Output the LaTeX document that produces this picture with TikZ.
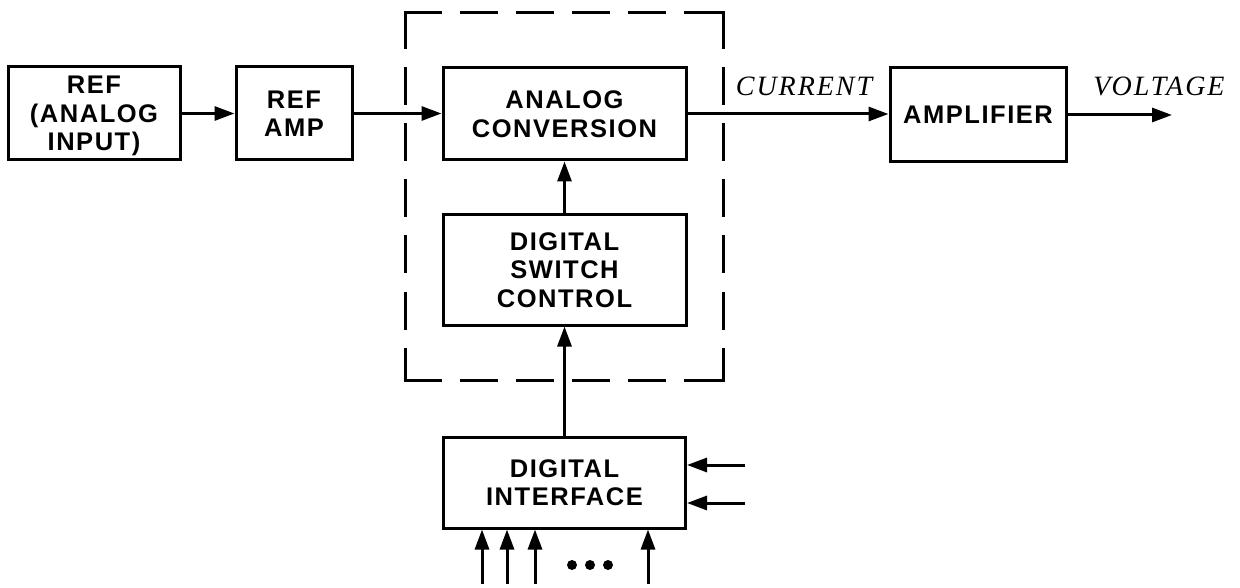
\documentclass[tikz,border=0pt]{standalone}
\usepackage{fontspec}
\setmainfont{Liberation Sans}
\newfontfamily\boxfont[LetterSpace=6]{Liberation Sans}
\newfontfamily\labfont[LetterSpace=7]{Liberation Serif}
\usetikzlibrary{arrows.meta}
\begin{document}
\begin{tikzpicture}[x=1pt,y=-1pt,
  blk/.style={draw, line width=3pt, inner sep=0pt, align=center, text depth=0pt,
    font=\fontsize{25.5}{28.5}\selectfont\boxfont\bfseries},
  lab/.style={inner sep=0pt, font=\fontsize{28}{30}\selectfont\labfont\itshape},
  arr/.style={line width=3pt, -{Triangle[length=20pt,width=14pt]}},
  dashbox/.style={line width=3pt, dash pattern=on 35pt off 21pt, line cap=rect},
  dotc/.style={circle, fill, inner sep=0pt, minimum size=10pt}]
\useasboundingbox (0,0) rectangle (1240,588);

% dashed enclosure
\coordinate (tl) at (405,13);
\coordinate (tr) at (723,13);
\coordinate (bl) at (405,380);
\coordinate (br) at (723,380);
\draw[dashbox] (tl) -- (tr);
\draw[dashbox] (tr) -- (br);
\draw[dashbox] (tl) -- (bl);
\draw[dashbox] (bl) -- (br);

% blocks
\node[blk, minimum width=172pt, minimum height=93pt] (refin) at (94,113.5) {REF\\(ANALOG\\INPUT)};
\node[blk, minimum width=116pt, minimum height=93pt] (refamp) at (294,113.5) {REF\\AMP};
\node[blk, minimum width=243pt, minimum height=92pt] (ac) at (564.5,114) {ANALOG\\CONVERSION};
\node[blk, minimum width=243pt, minimum height=110pt] (dsc) at (564.5,270) {DIGITAL\\SWITCH\\CONTROL};
\node[blk, minimum width=176pt, minimum height=94pt] (amp) at (978,115) {AMPLIFIER};
\node[blk, minimum width=242pt, minimum height=91pt] (di) at (564.5,482.5) {DIGITAL\\INTERFACE};

% labels
\node[lab] (cur) at (804,86) {CURRENT};
\node[lab] (volt) at (1159,86) {VOLTAGE};

% connectors
\draw[arr] (refin.east) -- (refamp.west);
\draw[arr] (refamp.east) -- (refamp.east -| ac.west);
\draw[arr] (ac.east) -- (ac.east -| amp.west);
\coordinate (vout) at (1172,115);
\draw[arr] (amp.east) -- (vout);
\draw[arr] (dsc.north) -- (ac.south);
\draw[arr] (di.north) -- (dsc.south);

% digital interface inputs
\coordinate (in1) at (745,465);
\coordinate (in2) at (745,503);
\draw[arr] (in1) -- (in1 -| di.east);
\draw[arr] (in2) -- (in2 -| di.east);
\coordinate (b1) at (482,584);
\coordinate (b2) at (507,584);
\coordinate (b3) at (535,584);
\coordinate (b4) at (648,584);
\draw[arr] (b1) -- (b1 |- di.south);
\draw[arr] (b2) -- (b2 |- di.south);
\draw[arr] (b3) -- (b3 |- di.south);
\draw[arr] (b4) -- (b4 |- di.south);
\node[dotc] (d1) at (572,565) {};
\node[dotc] (d2) at (590,565) {};
\node[dotc] (d3) at (608,565) {};
\end{tikzpicture}
\end{document}
